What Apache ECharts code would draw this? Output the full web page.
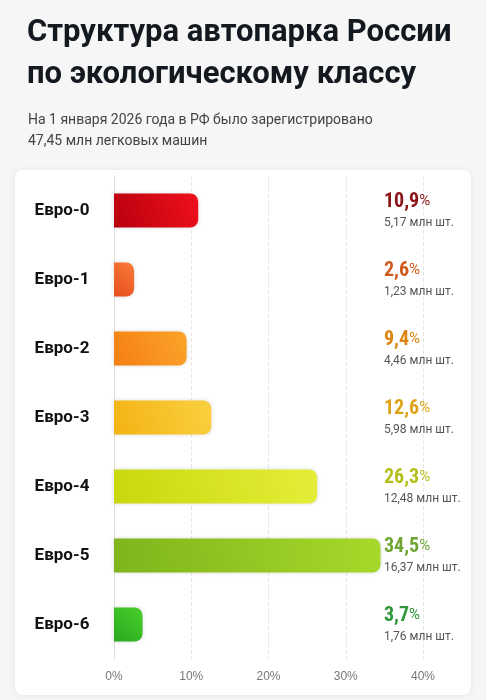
<!DOCTYPE html><html><head><meta charset="utf-8"><script src="https://cdn.jsdelivr.net/npm/echarts@6/dist/echarts.min.js"></script>
<style>html,body{margin:0;background:#f6f6f6}#c{width:486px;height:700px}</style></head><body><div id="c"></div><script>
const categories=['Евро-0','Евро-1','Евро-2','Евро-3','Евро-4','Евро-5','Евро-6'];
const shares=[10.9,2.6,9.4,12.6,26.3,34.5,3.7];
const counts=['5,17','1,23','4,46','5,98','12,48','16,37','1,76'];
const barColors=[['#b8000e','#f0101c'],['#e8501e','#f87a38'],['#f57f12','#fba42a'],['#f3b314','#fbd040'],['#c9d80e','#e4ee38'],['#7fb51c','#a8d82a'],['#2aa81e','#48d02c']];
const textColors=['#8a1418','#cf5a1e','#de8410','#dca316','#b3bf1a','#6ea532','#2e963a'];
const ch=echarts.init(document.getElementById('c'));
const rich={};textColors.forEach((c,i)=>{rich['p'+i]={color:c,fontSize:20,fontWeight:'bold',fontFamily:'Roboto Condensed, Roboto',lineHeight:24};rich['s'+i]={color:c,fontSize:15,fontFamily:'Roboto',lineHeight:24};});
rich.m={color:'#555',fontSize:12,fontFamily:'Roboto',lineHeight:18};
ch.setOption({
 backgroundColor:'#f6f6f6',
 graphic:[{type:'rect',shape:{x:15,y:170,width:456,height:525,r:8},style:{fill:'#fff',shadowBlur:6,shadowColor:'rgba(0,0,0,0.08)'},z:-10},
 {type:'text',left:27,top:12,style:{text:'Структура автопарка России\nпо экологическому классу',font:'bold 31px Roboto',fill:'#14181f',lineHeight:42}},
 {type:'text',left:28,top:110,style:{text:'На 1 января 2026 года в РФ было зарегистрировано\n47,45 млн легковых машин',font:'14px Roboto',fill:'#444',lineHeight:21}}],
 grid:{left:114,right:63,top:176,bottom:41},
 xAxis:{type:'value',min:0,max:40,interval:10,axisLabel:{formatter:'{value}%',color:'#777',fontSize:12,margin:12},splitLine:{lineStyle:{type:'dashed',color:'#e6e6e6'}}},
 yAxis:[{type:'category',inverse:true,data:categories,axisTick:{show:false},axisLine:{lineStyle:{color:'#e0e0e0'}},axisLabel:{color:'#111',fontSize:17,fontWeight:'bold',fontFamily:'Roboto',margin:52,align:'center'}},
 {type:'category',inverse:true,position:'right',data:categories,axisTick:{show:false},axisLine:{show:false},axisLabel:{align:'left',margin:-39,formatter:(v,i)=>'{p'+i+'|'+String(shares[i]).replace('.',',')+'}{s'+i+'|%}\n{m|'+counts[i]+' млн шт.}',rich}}],
 series:[{type:'bar',data:shares.map((v,i)=>({value:v,itemStyle:{color:new echarts.graphic.LinearGradient(0,1,1,0,[{offset:0,color:barColors[i][0]},{offset:1,color:barColors[i][1]}])}})),barWidth:34,itemStyle:{borderRadius:[0,8,8,0],shadowBlur:4,shadowColor:'rgba(0,0,0,0.15)'}}]
});
</script></body></html>
